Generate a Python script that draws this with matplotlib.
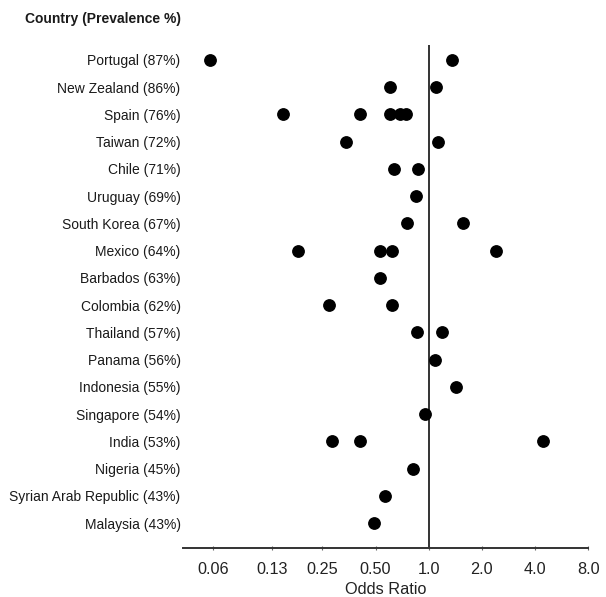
import matplotlib
matplotlib.use("Agg")
import matplotlib.pyplot as plt
from matplotlib.ticker import FixedLocator, FixedFormatter, NullLocator

plt.rcParams['font.family'] = ['Liberation Sans', 'DejaVu Sans']

countries = ["Portugal (87%)", "New Zealand (86%)", "Spain (76%)", "Taiwan (72%)",
             "Chile (71%)", "Uruguay (69%)", "South Korea (67%)", "Mexico (64%)",
             "Barbados (63%)", "Colombia (62%)", "Thailand (57%)", "Panama (56%)",
             "Indonesia (55%)", "Singapore (54%)", "India (53%)", "Nigeria (45%)",
             "Syrian Arab Republic (43%)", "Malaysia (43%)"]

odds_ratios = [
    [0.058, 1.36],
    [0.600, 1.10],
    [0.150, 0.410, 0.605, 0.692, 0.745],
    [0.340, 1.13],
    [0.632, 0.867],
    [0.849],
    [0.751, 1.556],
    [0.181, 0.531, 0.618, 2.39],
    [0.527],
    [0.272, 0.616],
    [0.855, 1.184],
    [1.087],
    [1.428],
    [0.954],
    [0.283, 0.410, 4.44],
    [0.812],
    [0.562],
    [0.487],
]

tick_values = [0.06, 0.13, 0.25, 0.50, 1.0, 2.0, 4.0, 8.0]
tick_labels = ["0.06", "0.13", "0.25", "0.50", "1.0", "2.0", "4.0", "8.0"]

W, H = 606, 597
fig = plt.figure(figsize=(W / 100, H / 100), dpi=100)
ax = fig.add_axes([182.7 / W, 1 - 547.7 / H, (588.3 - 182.7) / W, (547.7 - 45) / H])

for i, vals in enumerate(odds_ratios):
    ax.plot(vals, [i] * len(vals), 'o', color='black', markersize=8.2, linestyle='none', zorder=3)

ax.axvline(1.0, color='#333333', linewidth=1.4, zorder=2)

ax.set_xscale('log', base=2)
ax.set_xlim(0.0405, 8.0)
ax.set_ylim(len(countries) - 1 + 0.9, -0.55)

ax.xaxis.set_major_locator(FixedLocator(tick_values))
ax.xaxis.set_major_formatter(FixedFormatter(tick_labels))
ax.xaxis.set_minor_locator(NullLocator())
ax.set_yticks(range(len(countries)))
ax.set_yticklabels(countries)

ax.tick_params(axis='y', length=0, pad=1.5, labelsize=10, labelcolor='#1a1a1a')
ax.tick_params(axis='x', length=3, direction='inout', width=0.8, color='#666666',
               pad=8.5, labelsize=11.7, labelcolor='#222222')

for s in ['top', 'right', 'left']:
    ax.spines[s].set_visible(False)
ax.spines['bottom'].set_color('#333333')
ax.spines['bottom'].set_linewidth(1.4)

ax.set_xlabel("Odds Ratio", fontsize=11.7, color='#222222', labelpad=4.2)

fig.text(181 / W, 1 - 19 / H, "Country (Prevalence %)", ha='right', va='center',
         fontsize=10, fontweight='bold', color='#1a1a1a')

fig.savefig("out.png", dpi=100)
